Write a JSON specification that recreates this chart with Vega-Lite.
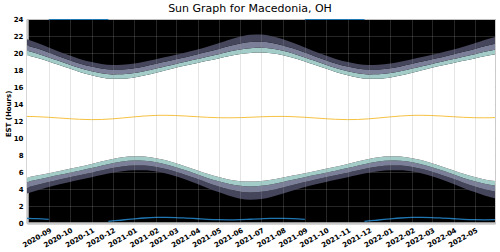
{
  "$schema": "https://vega.github.io/schema/vega-lite/v6.json",
  "width": 468,
  "height": 204,
  "autosize": {"type": "none"},
  "padding": {"left": 27, "top": 19, "right": 5, "bottom": 29},
  "config": {
    "view": {"fill": "#000000", "stroke": "#cccccc", "strokeWidth": 1},
    "font": "DejaVu Sans",
    "axisY": {
      "labelFontSize": 7, "labelFontWeight": "bold", "labelColor": "#000000", "labelPadding": 4, "labelOverlap": false,
      "titleFontSize": 7, "titleFontWeight": "bold", "titleColor": "#000000",
      "titleX": -18.5, "titleY": 94.5, "titleAlign": "center", "titleBaseline": "middle",
      "ticks": false, "grid": true, "gridColor": "#999999", "gridOpacity": 0.25,
      "domainColor": "#c8c8c8", "domainWidth": 2.5, "zindex": 1
    }
  },
  "title": {"text": "Sun Graph for Macedonia, OH", "fontSize": 11, "fontWeight": "normal", "font": "DejaVu Sans", "color": "#000000", "frame": "group", "orient": "none", "baseline": "alphabetic", "dx": 223, "dy": -7, "align": "center", "anchor": "start"},
  "datasets": {
    "sun": [
      {"d": "2020-08-01", "n": 12.54, "a1": 3.469, "n1": 4.184, "c1": 4.827, "r": 5.345, "s": 19.735, "c2": 20.253, "n2": 20.896, "a2": 21.611},
      {"d": "2020-08-15", "n": 12.51, "a1": 3.823, "n1": 4.475, "c1": 5.079, "r": 5.575, "s": 19.445, "c2": 19.941, "n2": 20.545, "a2": 21.197},
      {"d": "2020-09-01", "n": 12.435, "a1": 4.231, "n1": 4.824, "c1": 5.389, "r": 5.862, "s": 19.008, "c2": 19.481, "n2": 20.046, "a2": 20.639},
      {"d": "2020-09-15", "n": 12.357, "a1": 4.533, "n1": 5.094, "c1": 5.638, "r": 6.101, "s": 18.613, "c2": 19.076, "n2": 19.62, "a2": 20.181},
      {"d": "2020-10-01", "n": 12.267, "a1": 4.836, "n1": 5.376, "c1": 5.91, "r": 6.368, "s": 18.166, "c2": 18.624, "n2": 19.158, "a2": 19.698},
      {"d": "2020-10-15", "n": 12.2, "a1": 5.092, "n1": 5.625, "c1": 6.158, "r": 6.621, "s": 17.779, "c2": 18.242, "n2": 18.775, "a2": 19.308},
      {"d": "2020-11-01", "n": 12.162, "a1": 5.391, "n1": 5.926, "c1": 6.469, "r": 6.947, "s": 17.377, "c2": 17.855, "n2": 18.398, "a2": 18.933},
      {"d": "2020-11-15", "n": 12.178, "a1": 5.637, "n1": 6.18, "c1": 6.736, "r": 7.23, "s": 17.126, "c2": 17.62, "n2": 18.176, "a2": 18.719},
      {"d": "2020-12-01", "n": 12.252, "a1": 5.902, "n1": 6.456, "c1": 7.027, "r": 7.539, "s": 16.965, "c2": 17.477, "n2": 18.048, "a2": 18.602},
      {"d": "2020-12-15", "n": 12.355, "a1": 6.084, "n1": 6.644, "c1": 7.222, "r": 7.744, "s": 16.966, "c2": 17.488, "n2": 18.066, "a2": 18.626},
      {"d": "2021-01-01", "n": 12.488, "a1": 6.205, "n1": 6.765, "c1": 7.342, "r": 7.862, "s": 17.114, "c2": 17.634, "n2": 18.211, "a2": 18.771},
      {"d": "2021-01-15", "n": 12.587, "a1": 6.203, "n1": 6.755, "c1": 7.324, "r": 7.832, "s": 17.342, "c2": 17.85, "n2": 18.419, "a2": 18.971},
      {"d": "2021-02-01", "n": 12.66, "a1": 6.051, "n1": 6.592, "c1": 7.144, "r": 7.632, "s": 17.688, "c2": 18.176, "n2": 18.728, "a2": 19.269},
      {"d": "2021-02-15", "n": 12.672, "a1": 5.822, "n1": 6.356, "c1": 6.895, "r": 7.369, "s": 17.975, "c2": 18.449, "n2": 18.988, "a2": 19.522},
      {"d": "2021-03-01", "n": 12.643, "a1": 5.5, "n1": 6.033, "c1": 6.566, "r": 7.029, "s": 18.257, "c2": 18.72, "n2": 19.253, "a2": 19.786},
      {"d": "2021-03-15", "n": 12.585, "a1": 5.118, "n1": 5.659, "c1": 6.193, "r": 6.652, "s": 18.518, "c2": 18.977, "n2": 19.511, "a2": 20.052},
      {"d": "2021-04-01", "n": 12.502, "a1": 4.596, "n1": 5.162, "c1": 5.711, "r": 6.175, "s": 18.829, "c2": 19.293, "n2": 19.842, "a2": 20.408},
      {"d": "2021-04-15", "n": 12.435, "a1": 4.13, "n1": 4.733, "c1": 5.306, "r": 5.783, "s": 19.087, "c2": 19.564, "n2": 20.137, "a2": 20.74},
      {"d": "2021-05-01", "n": 12.387, "a1": 3.637, "n1": 4.298, "c1": 4.908, "r": 5.407, "s": 19.367, "c2": 19.866, "n2": 20.476, "a2": 21.137},
      {"d": "2021-05-15", "n": 12.375, "a1": 3.228, "n1": 3.957, "c1": 4.608, "r": 5.132, "s": 19.618, "c2": 20.142, "n2": 20.793, "a2": 21.522},
      {"d": "2021-06-01", "n": 12.398, "a1": 2.864, "n1": 3.677, "c1": 4.375, "r": 4.926, "s": 19.87, "c2": 20.421, "n2": 21.119, "a2": 21.932},
      {"d": "2021-06-15", "n": 12.44, "a1": 2.725, "n1": 3.585, "c1": 4.307, "r": 4.87, "s": 20.01, "c2": 20.573, "n2": 21.295, "a2": 22.155},
      {"d": "2021-07-01", "n": 12.497, "a1": 2.811, "n1": 3.664, "c1": 4.381, "r": 4.942, "s": 20.052, "c2": 20.613, "n2": 21.33, "a2": 22.183},
      {"d": "2021-07-15", "n": 12.533, "a1": 3.052, "n1": 3.853, "c1": 4.544, "r": 5.09, "s": 19.976, "c2": 20.522, "n2": 21.213, "a2": 22.014},
      {"d": "2021-08-01", "n": 12.54, "a1": 3.469, "n1": 4.184, "c1": 4.827, "r": 5.345, "s": 19.735, "c2": 20.253, "n2": 20.896, "a2": 21.611},
      {"d": "2021-08-15", "n": 12.51, "a1": 3.823, "n1": 4.475, "c1": 5.079, "r": 5.575, "s": 19.445, "c2": 19.941, "n2": 20.545, "a2": 21.197},
      {"d": "2021-09-01", "n": 12.435, "a1": 4.231, "n1": 4.824, "c1": 5.389, "r": 5.862, "s": 19.008, "c2": 19.481, "n2": 20.046, "a2": 20.639},
      {"d": "2021-09-15", "n": 12.357, "a1": 4.533, "n1": 5.094, "c1": 5.638, "r": 6.101, "s": 18.613, "c2": 19.076, "n2": 19.62, "a2": 20.181},
      {"d": "2021-10-01", "n": 12.267, "a1": 4.836, "n1": 5.376, "c1": 5.91, "r": 6.368, "s": 18.166, "c2": 18.624, "n2": 19.158, "a2": 19.698},
      {"d": "2021-10-15", "n": 12.2, "a1": 5.092, "n1": 5.625, "c1": 6.158, "r": 6.621, "s": 17.779, "c2": 18.242, "n2": 18.775, "a2": 19.308},
      {"d": "2021-11-01", "n": 12.162, "a1": 5.391, "n1": 5.926, "c1": 6.469, "r": 6.947, "s": 17.377, "c2": 17.855, "n2": 18.398, "a2": 18.933},
      {"d": "2021-11-15", "n": 12.178, "a1": 5.637, "n1": 6.18, "c1": 6.736, "r": 7.23, "s": 17.126, "c2": 17.62, "n2": 18.176, "a2": 18.719},
      {"d": "2021-12-01", "n": 12.252, "a1": 5.902, "n1": 6.456, "c1": 7.027, "r": 7.539, "s": 16.965, "c2": 17.477, "n2": 18.048, "a2": 18.602},
      {"d": "2021-12-15", "n": 12.355, "a1": 6.084, "n1": 6.644, "c1": 7.222, "r": 7.744, "s": 16.966, "c2": 17.488, "n2": 18.066, "a2": 18.626},
      {"d": "2022-01-01", "n": 12.488, "a1": 6.205, "n1": 6.765, "c1": 7.342, "r": 7.862, "s": 17.114, "c2": 17.634, "n2": 18.211, "a2": 18.771},
      {"d": "2022-01-15", "n": 12.587, "a1": 6.203, "n1": 6.755, "c1": 7.324, "r": 7.832, "s": 17.342, "c2": 17.85, "n2": 18.419, "a2": 18.971},
      {"d": "2022-02-01", "n": 12.66, "a1": 6.051, "n1": 6.592, "c1": 7.144, "r": 7.632, "s": 17.688, "c2": 18.176, "n2": 18.728, "a2": 19.269},
      {"d": "2022-02-15", "n": 12.672, "a1": 5.822, "n1": 6.356, "c1": 6.895, "r": 7.369, "s": 17.975, "c2": 18.449, "n2": 18.988, "a2": 19.522},
      {"d": "2022-03-01", "n": 12.643, "a1": 5.5, "n1": 6.033, "c1": 6.566, "r": 7.029, "s": 18.257, "c2": 18.72, "n2": 19.253, "a2": 19.786},
      {"d": "2022-03-15", "n": 12.585, "a1": 5.118, "n1": 5.659, "c1": 6.193, "r": 6.652, "s": 18.518, "c2": 18.977, "n2": 19.511, "a2": 20.052},
      {"d": "2022-04-01", "n": 12.502, "a1": 4.596, "n1": 5.162, "c1": 5.711, "r": 6.175, "s": 18.829, "c2": 19.293, "n2": 19.842, "a2": 20.408},
      {"d": "2022-04-15", "n": 12.435, "a1": 4.13, "n1": 4.733, "c1": 5.306, "r": 5.783, "s": 19.087, "c2": 19.564, "n2": 20.137, "a2": 20.74},
      {"d": "2022-05-01", "n": 12.387, "a1": 3.637, "n1": 4.298, "c1": 4.908, "r": 5.407, "s": 19.367, "c2": 19.866, "n2": 20.476, "a2": 21.137},
      {"d": "2022-05-15", "n": 12.375, "a1": 3.228, "n1": 3.957, "c1": 4.608, "r": 5.132, "s": 19.618, "c2": 20.142, "n2": 20.793, "a2": 21.522},
      {"d": "2022-06-01", "n": 12.398, "a1": 2.864, "n1": 3.677, "c1": 4.375, "r": 4.926, "s": 19.87, "c2": 20.421, "n2": 21.119, "a2": 21.932}
    ],
    "mid": [
      {"d": "2020-08-01", "h": 0.54, "seg": "A"},
      {"d": "2020-08-15", "h": 0.51, "seg": "A"},
      {"d": "2020-09-01", "h": 0.435, "seg": "A"},
      {"d": "2020-09-01", "h": 23.95, "seg": "B"},
      {"d": "2020-11-25", "h": 23.95, "seg": "B"},
      {"d": "2020-11-25", "h": 0.2, "seg": "C"},
      {"d": "2020-12-01", "h": 0.252, "seg": "C"},
      {"d": "2020-12-15", "h": 0.355, "seg": "C"},
      {"d": "2021-01-01", "h": 0.488, "seg": "C"},
      {"d": "2021-01-15", "h": 0.587, "seg": "C"},
      {"d": "2021-02-01", "h": 0.66, "seg": "C"},
      {"d": "2021-02-15", "h": 0.672, "seg": "C"},
      {"d": "2021-03-01", "h": 0.643, "seg": "C"},
      {"d": "2021-03-15", "h": 0.585, "seg": "C"},
      {"d": "2021-04-01", "h": 0.502, "seg": "C"},
      {"d": "2021-04-15", "h": 0.435, "seg": "C"},
      {"d": "2021-05-01", "h": 0.387, "seg": "C"},
      {"d": "2021-05-15", "h": 0.375, "seg": "C"},
      {"d": "2021-06-01", "h": 0.398, "seg": "C"},
      {"d": "2021-06-15", "h": 0.44, "seg": "C"},
      {"d": "2021-07-01", "h": 0.497, "seg": "C"},
      {"d": "2021-07-15", "h": 0.533, "seg": "C"},
      {"d": "2021-08-01", "h": 0.54, "seg": "C"},
      {"d": "2021-08-15", "h": 0.51, "seg": "C"},
      {"d": "2021-09-01", "h": 0.435, "seg": "C"},
      {"d": "2021-09-01", "h": 23.95, "seg": "D"},
      {"d": "2021-11-25", "h": 23.95, "seg": "D"},
      {"d": "2021-11-25", "h": 0.2, "seg": "E"},
      {"d": "2021-12-01", "h": 0.252, "seg": "E"},
      {"d": "2021-12-15", "h": 0.355, "seg": "E"},
      {"d": "2022-01-01", "h": 0.488, "seg": "E"},
      {"d": "2022-01-15", "h": 0.587, "seg": "E"},
      {"d": "2022-02-01", "h": 0.66, "seg": "E"},
      {"d": "2022-02-15", "h": 0.672, "seg": "E"},
      {"d": "2022-03-01", "h": 0.643, "seg": "E"},
      {"d": "2022-03-15", "h": 0.585, "seg": "E"},
      {"d": "2022-04-01", "h": 0.502, "seg": "E"},
      {"d": "2022-04-15", "h": 0.435, "seg": "E"},
      {"d": "2022-05-01", "h": 0.387, "seg": "E"},
      {"d": "2022-05-15", "h": 0.375, "seg": "E"},
      {"d": "2022-06-01", "h": 0.398, "seg": "E"}
    ]
  },
  "data": {"name": "sun"},
  "encoding": {
    "x": {
      "field": "d", "type": "temporal",
      "scale": {"type": "utc", "domain": [{"year": 2020, "month": 8, "date": 1, "utc": true}, {"year": 2022, "month": 5, "date": 30, "utc": true}]},
      "axis": {
        "title": null,
        "values": [
          {"year": 2020, "month": 9, "date": 1, "utc": true},
          {"year": 2020, "month": 10, "date": 1, "utc": true},
          {"year": 2020, "month": 11, "date": 1, "utc": true},
          {"year": 2020, "month": 12, "date": 1, "utc": true},
          {"year": 2021, "month": 1, "date": 1, "utc": true},
          {"year": 2021, "month": 2, "date": 1, "utc": true},
          {"year": 2021, "month": 3, "date": 1, "utc": true},
          {"year": 2021, "month": 4, "date": 1, "utc": true},
          {"year": 2021, "month": 5, "date": 1, "utc": true},
          {"year": 2021, "month": 6, "date": 1, "utc": true},
          {"year": 2021, "month": 7, "date": 1, "utc": true},
          {"year": 2021, "month": 8, "date": 1, "utc": true},
          {"year": 2021, "month": 9, "date": 1, "utc": true},
          {"year": 2021, "month": 10, "date": 1, "utc": true},
          {"year": 2021, "month": 11, "date": 1, "utc": true},
          {"year": 2021, "month": 12, "date": 1, "utc": true},
          {"year": 2022, "month": 1, "date": 1, "utc": true},
          {"year": 2022, "month": 2, "date": 1, "utc": true},
          {"year": 2022, "month": 3, "date": 1, "utc": true},
          {"year": 2022, "month": 4, "date": 1, "utc": true},
          {"year": 2022, "month": 5, "date": 1, "utc": true}
        ],
        "labelExpr": "utcFormat(datum.value, '%Y-%m')",
        "labelAngle": -30, "labelAlign": "right", "labelBaseline": "top",
        "labelFontSize": 7, "labelFontWeight": "bold", "labelColor": "#000000", "labelPadding": 3,
        "labelOverlap": false,
        "ticks": false, "grid": true, "gridColor": "#999999", "gridOpacity": 0.25,
        "domainColor": "#c8c8c8", "domainWidth": 2.5, "zindex": 1
      }
    }
  },
  "layer": [
    {
      "mark": {"type": "area", "interpolate": "monotone", "color": "#45465c", "clip": true},
      "encoding": {
        "y": {"field": "a1", "type": "quantitative", "scale": {"domain": [0, 24], "nice": false, "zero": false},
          "axis": {"title": "EST (Hours)", "values": [0, 2, 4, 6, 8, 10, 12, 14, 16, 18, 20, 22, 24], "tickCount": 13}},
        "y2": {"field": "n1"}
      }
    },
    {
      "mark": {"type": "area", "interpolate": "monotone", "color": "#7b8098", "clip": true},
      "encoding": {"y": {"field": "n1", "type": "quantitative", "scale": {"domain": [0, 24], "nice": false, "zero": false},
          "axis": {"title": "EST (Hours)", "values": [0, 2, 4, 6, 8, 10, 12, 14, 16, 18, 20, 22, 24], "tickCount": 13}}, "y2": {"field": "c1"}}
    },
    {
      "mark": {"type": "area", "interpolate": "monotone", "color": "#a3ccc8", "clip": true},
      "encoding": {"y": {"field": "c1", "type": "quantitative", "scale": {"domain": [0, 24], "nice": false, "zero": false},
          "axis": {"title": "EST (Hours)", "values": [0, 2, 4, 6, 8, 10, 12, 14, 16, 18, 20, 22, 24], "tickCount": 13}}, "y2": {"field": "r"}}
    },
    {
      "mark": {"type": "area", "interpolate": "monotone", "color": "#ffffff", "clip": true},
      "encoding": {"y": {"field": "r", "type": "quantitative", "scale": {"domain": [0, 24], "nice": false, "zero": false},
          "axis": {"title": "EST (Hours)", "values": [0, 2, 4, 6, 8, 10, 12, 14, 16, 18, 20, 22, 24], "tickCount": 13}}, "y2": {"field": "s"}}
    },
    {
      "mark": {"type": "area", "interpolate": "monotone", "color": "#a3ccc8", "clip": true},
      "encoding": {"y": {"field": "s", "type": "quantitative", "scale": {"domain": [0, 24], "nice": false, "zero": false},
          "axis": {"title": "EST (Hours)", "values": [0, 2, 4, 6, 8, 10, 12, 14, 16, 18, 20, 22, 24], "tickCount": 13}}, "y2": {"field": "c2"}}
    },
    {
      "mark": {"type": "area", "interpolate": "monotone", "color": "#7b8098", "clip": true},
      "encoding": {"y": {"field": "c2", "type": "quantitative", "scale": {"domain": [0, 24], "nice": false, "zero": false},
          "axis": {"title": "EST (Hours)", "values": [0, 2, 4, 6, 8, 10, 12, 14, 16, 18, 20, 22, 24], "tickCount": 13}}, "y2": {"field": "n2"}}
    },
    {
      "mark": {"type": "area", "interpolate": "monotone", "color": "#45465c", "clip": true},
      "encoding": {"y": {"field": "n2", "type": "quantitative", "scale": {"domain": [0, 24], "nice": false, "zero": false},
          "axis": {"title": "EST (Hours)", "values": [0, 2, 4, 6, 8, 10, 12, 14, 16, 18, 20, 22, 24], "tickCount": 13}}, "y2": {"field": "a2"}}
    },
    {
      "mark": {"type": "line", "interpolate": "monotone", "color": "#f6c242", "strokeWidth": 1, "clip": true},
      "encoding": {"y": {"field": "n", "type": "quantitative", "scale": {"domain": [0, 24], "nice": false, "zero": false},
          "axis": {"title": "EST (Hours)", "values": [0, 2, 4, 6, 8, 10, 12, 14, 16, 18, 20, 22, 24], "tickCount": 13}}}
    },
    {
      "data": {"name": "mid"},
      "mark": {"type": "line", "interpolate": "monotone", "color": "#1f77b4", "strokeWidth": 1.3, "clip": true},
      "encoding": {"y": {"field": "h", "type": "quantitative", "scale": {"domain": [0, 24], "nice": false, "zero": false},
          "axis": {"title": "EST (Hours)", "values": [0, 2, 4, 6, 8, 10, 12, 14, 16, 18, 20, 22, 24], "tickCount": 13}}, "detail": {"field": "seg"}}
    }
  ]
}
